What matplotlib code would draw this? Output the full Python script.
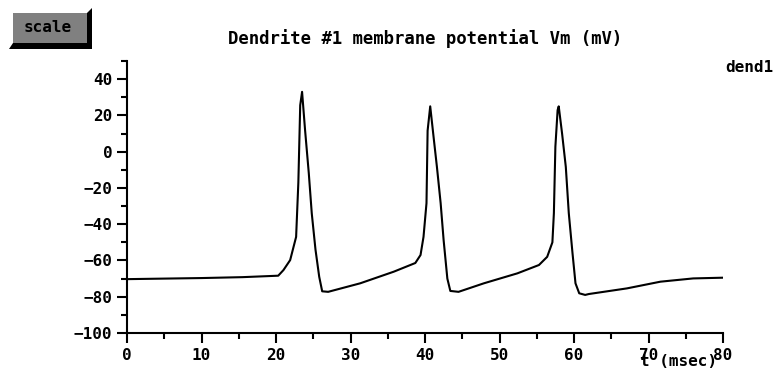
import numpy as np
import matplotlib
matplotlib.use("Agg")
import matplotlib.pyplot as plt
from matplotlib.patches import Polygon, Rectangle
from matplotlib.ticker import MultipleLocator


TITLE = "Dendrite #1 membrane potential Vm (mV)"
TRACE_NAME = "dend1"
X_LABEL = "t (msec)"

# time (msec) and membrane potential (mV)
T_MS = [0, 5, 10, 15.5, 20.3, 21.0, 21.9, 22.7, 23.0, 23.25, 23.5, 23.9,
        24.4, 24.8, 25.3, 25.8, 26.2, 27.0, 31.3, 35.8, 38.7, 39.4, 39.8,
        40.2, 40.35, 40.7, 41.2, 41.6, 42.1, 42.5, 43.0, 43.4, 44.5, 47.9,
        52.4, 55.3, 56.4, 57.1, 57.3, 57.5, 57.8, 57.95, 58.4, 58.9, 59.3,
        59.8, 60.2, 60.7, 61.5, 62.0, 67.1, 71.6, 76.0, 80.0]
VM = [-70.3, -70.0, -69.7, -69.2, -68.4, -65.3, -59.8, -47.0, -17.0, 25.6,
      33.0, 12.0, -11.8, -34.0, -54.0, -69.0, -77.0, -77.3, -72.6, -66.2,
      -61.4, -57.0, -47.0, -28.4, 11.6, 25.0, 6.3, -8.4, -28.4, -48.8,
      -70.0, -76.8, -77.3, -72.6, -67.1, -62.5, -58.0, -50.0, -33.9, 2.7,
      22.9, 25.0, 10.0, -8.4, -33.9, -56.0, -72.6, -78.1, -79.0, -78.5,
      -75.4, -71.7, -69.9, -69.5]

FONT = dict(family="DejaVu Sans Mono", weight="bold", size=11.5)


def draw_button(fig):
    # bevelled "scale" button in the top left corner, figure pixel coords
    h = fig.bbox.height

    def flip(pts):
        return [(x, h - y) for x, y in pts]

    shadow = Polygon(flip([(9, 49), (92, 49), (92, 8), (87, 13), (87, 43), (13, 43)]),
                     closed=True, facecolor="black", edgecolor="none",
                     transform=None)
    face = Rectangle((13, h - 43), 74, 30, facecolor="#808080",
                     edgecolor="none", transform=None)
    fig.patches.extend([shadow, face])
    fig.text(48 / fig.bbox.width, 1 - 28 / h, "scale", ha="center", va="center",
             color="black", **FONT)


def main():
    fig = plt.figure(figsize=(7.79, 3.69), dpi=100)
    W, H = 779, 369
    ax = fig.add_axes([127 / W, 1 - 333 / H, (723 - 127) / W, (333 - 61) / H])

    ax.plot(T_MS, VM, color="black", linewidth=1.5)

    ax.set_xlim(0, 80)
    ax.set_ylim(-100, 50)
    ax.xaxis.set_major_locator(MultipleLocator(10))
    ax.xaxis.set_minor_locator(MultipleLocator(5))
    ax.yaxis.set_major_locator(MultipleLocator(20))
    ax.yaxis.set_minor_locator(MultipleLocator(10))

    for side in ("top", "right"):
        ax.spines[side].set_visible(False)
    for side in ("left", "bottom"):
        ax.spines[side].set_linewidth(1.5)

    ax.tick_params(which="major", direction="out", length=7, width=1.5, pad=3.5)
    ax.tick_params(which="minor", direction="out", length=4, width=1.5)
    for lab in ax.get_xticklabels() + ax.get_yticklabels():
        lab.set_fontfamily(FONT["family"])
        lab.set_fontweight(FONT["weight"])
        lab.set_fontsize(FONT["size"])

    title_font = dict(FONT, size=12.4)
    fig.text(425 / W, 1 - 39 / H, TITLE, ha="center", va="center", **title_font)
    fig.text(773 / W, 1 - 67 / H, TRACE_NAME, ha="right", va="center", **FONT)
    fig.text(640 / W, 1 - 361 / H, X_LABEL, ha="left", va="center", **FONT)

    draw_button(fig)

    fig.savefig("out.png", dpi=100)


if __name__ == "__main__":
    main()
